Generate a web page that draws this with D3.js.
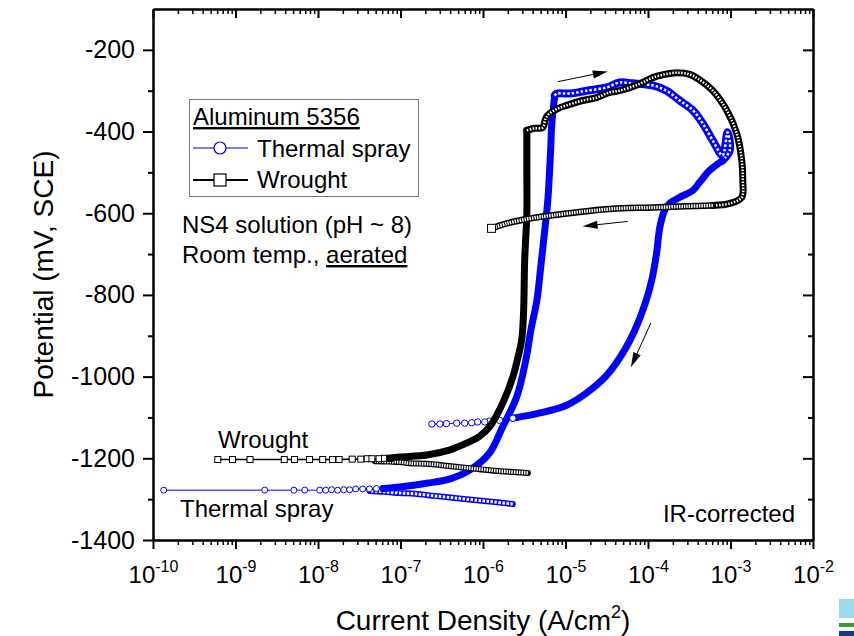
<!DOCTYPE html>
<meta charset="utf-8">
<script src="https://d3js.org/d3.v7.min.js"></script>
<style>
body{margin:0;background:#fff}
text{font-family:"Liberation Sans",Arial,sans-serif;fill:#000}
</style>
<div id="chart"></div>
<script>

// tick values
var yTicks = [-1400,-1200,-1000,-800,-600,-400,-200]
var yMinor = [-1300,-1100,-900,-700,-500,-300]
var xExponents = [-10,-9,-8,-7,-6,-5,-4,-3,-2]

// Thermal spray, [current A/cm2, potential mV SCE], in scan order
var sprayCathodic = [[2.3e-6,-1312],[1.39e-6,-1307],[7.9e-7,-1302],[4.5e-7,-1297],[2.6e-7,-1292],[1.49e-7,-1287],[9.8e-8,-1285],[6.4e-8,-1282],[4.2e-8,-1280]]
var sprayOcp = [[1.35e-10,-1278],[2.26e-9,-1278],[5.1e-9,-1278],[6.9e-9,-1278],[1.05e-8,-1278],[1.24e-8,-1278],[1.46e-8,-1277],[1.73e-8,-1278],[2.05e-8,-1277],[2.42e-8,-1277],[2.86e-8,-1275],[3.48e-8,-1275],[4.2e-8,-1275],[5.1e-8,-1274],[6.1e-8,-1274]]
var sprayAnodic = [[6.1e-8,-1274],[9.8e-8,-1270],[2.08e-7,-1261],[3.9e-7,-1251],[6.9e-7,-1229],[1.2e-6,-1187],[1.73e-6,-1123],[2.56e-6,-1050],[3.3e-6,-960],[3.8e-6,-887],[4.5e-6,-813],[5.0e-6,-733],[5.6e-6,-642],[6.1e-6,-569],[6.6e-6,-446],[6.8e-6,-385],[7.4e-6,-312]]
var sprayPassive = [[7.4e-6,-312],[7.8e-6,-307],[1.12e-5,-307],[1.8e-5,-300],[3.15e-5,-292],[4.5e-5,-280],[6.5e-5,-282],[1.14e-4,-287],[1.68e-4,-300],[2.42e-4,-324],[3.5e-4,-348],[4.6e-4,-380],[6.1e-4,-422],[8.0e-4,-458],[9.2e-4,-402],[9.8e-4,-446],[8.0e-4,-471]]
var sprayReverse = [[8.0e-4,-471],[5.6e-4,-495],[4.2e-4,-525],[3.5e-4,-544],[2.42e-4,-561],[1.83e-4,-576],[1.59e-4,-593],[1.39e-4,-635],[1.27e-4,-698],[1.11e-4,-764],[9.1e-5,-825],[6.9e-5,-887],[5.2e-5,-935],[3.15e-5,-997],[1.8e-5,-1040],[1.03e-5,-1070],[4.9e-6,-1089],[2.3e-6,-1102]]
var sprayReverseEnd = [[2.3e-6,-1102],[1.59e-6,-1107],[1.2e-6,-1109],[1.05e-6,-1111],[8.6e-7,-1111],[7.3e-7,-1113],[6.0e-7,-1114],[4.8e-7,-1114],[3.6e-7,-1115],[3.0e-7,-1116],[2.4e-7,-1116]]

// Wrought
var wroughtCathodic = [[3.5e-6,-1236],[2.1e-6,-1233],[1.2e-6,-1229],[6.9e-7,-1224],[3.9e-7,-1219],[2.26e-7,-1214],[1.29e-7,-1212],[9.8e-8,-1209],[7.4e-8,-1208],[4.9e-8,-1207]]
var wroughtOcp = [[6.1e-10,-1203],[9.2e-10,-1203],[1.5e-9,-1203],[3.9e-9,-1203],[5.2e-9,-1203],[7.9e-9,-1203],[1.14e-8,-1203],[1.5e-8,-1203],[1.8e-8,-1203],[2.6e-8,-1202],[3.3e-8,-1202],[3.95e-8,-1201],[4.5e-8,-1201],[5.5e-8,-1201],[6.4e-8,-1200],[7.4e-8,-1200]]
var wroughtAnodic = [[7.4e-8,-1200],[9.8e-8,-1197],[2.08e-7,-1192],[3.9e-7,-1180],[6.3e-7,-1163],[9.1e-7,-1146],[1.2e-6,-1123],[1.73e-6,-1065],[2.3e-6,-1001],[2.6e-6,-960],[2.94e-6,-911],[3.1e-6,-845],[3.2e-6,-715],[3.4e-6,-600],[3.4e-6,-495],[3.4e-6,-397]]
var wroughtPassive = [[3.4e-6,-397],[4.2e-6,-392],[5.3e-6,-390],[5.75e-6,-368],[6.4e-6,-356],[8.05e-6,-344],[1.03e-5,-336],[1.61e-5,-324],[2.38e-5,-317],[3.43e-5,-304],[4.5e-5,-300],[6.5e-5,-290],[8.6e-5,-280],[1.14e-4,-268],[1.59e-4,-260],[2.23e-4,-256],[3.2e-4,-260],[4.2e-4,-273],[6.1e-4,-300],[9.0e-4,-348],[1.19e-3,-405],[1.37e-3,-471],[1.41e-3,-520],[1.37e-3,-561],[9.8e-4,-576],[6.1e-4,-581]]
var wroughtReverse = [[6.1e-4,-581],[2.94e-4,-583],[1.14e-4,-586],[4.5e-5,-588],[1.8e-5,-595],[7.0e-6,-605],[3.7e-6,-613],[1.94e-6,-625],[1.27e-6,-637]]

// scan direction arrows: [from, to]
var arrows = [[[8.05e-6,-278],[3.25e-5,-253]],[[5.7e-5,-620],[1.61e-5,-632]],[[1.08e-4,-869],[6.2e-5,-977]]]

var blue = "#0000ff"
var width = 854, height = 636
var pLeft = 153, pRight = 813, pTop = 9, pBottom = 540

var svg = d3.select("#chart").append("svg").attr("width",width).attr("height",height)

var x = d3.scaleLog().domain([1e-10,1e-2]).range([pLeft,pRight])
var y = d3.scaleLinear().domain([-1400,-100]).range([pBottom,pTop])

var line = d3.line().x(d => x(d[0])).y(d => y(d[1])).curve(d3.curveCatmullRom.alpha(0.5))
var straight = d3.line().x(d => x(d[0])).y(d => y(d[1]))

// thick band of overlapping markers
function band(data, color, outer, inner, dash){
	svg.append("path").datum(data).attr("d",line)
		.attr("fill","none").attr("stroke",color).attr("stroke-width",outer)
		.attr("stroke-linejoin","round").attr("stroke-linecap","round")
	if(inner){
		svg.append("path").datum(data).attr("d",line)
			.attr("fill","none").attr("stroke","#fff").attr("stroke-width",inner)
			.attr("stroke-dasharray",dash)
	}
}

function circles(data, r){
	svg.append("path").datum(data).attr("d",straight).attr("fill","none").attr("stroke",blue).attr("stroke-width",1)
	svg.append("g").selectAll("circle").data(data).join("circle")
		.attr("cx",d => x(d[0])).attr("cy",d => y(d[1])).attr("r",r)
		.attr("fill","#fff").attr("stroke",blue).attr("stroke-width",1)
}

function squares(data, s){
	svg.append("path").datum(data).attr("d",straight).attr("fill","none").attr("stroke","#000").attr("stroke-width",1.6)
	svg.append("g").selectAll("rect").data(data).join("rect")
		.attr("x",d => x(d[0])-s/2).attr("y",d => y(d[1])-s/2).attr("width",s).attr("height",s)
		.attr("fill","#fff").attr("stroke","#000").attr("stroke-width",1)
}

// Thermal spray
band(sprayCathodic, blue, 6, 3, "2.5 1.5")
circles(sprayOcp, 3)
band(sprayAnodic, blue, 7)
band(sprayPassive, blue, 8, 2.5, "2.5 2")
band(sprayReverse, blue, 7)
circles(sprayReverseEnd, 3.2)

// Wrought
band(wroughtCathodic, "#000", 6, 3.5, "1.5 1")
squares(wroughtOcp, 6)
band(wroughtAnodic, "#000", 7)
band(wroughtPassive, "#000", 7, 2.5, "1.5 1.5")
band(wroughtReverse, "#000", 6.5, 3.5, "1.5 1")
var endPt = wroughtReverse[wroughtReverse.length-1]
svg.append("rect").attr("x",x(endPt[0])-4).attr("y",y(endPt[1])-4).attr("width",8).attr("height",8)
	.attr("fill","#fff").attr("stroke","#000").attr("stroke-width",1)

// arrows
arrows.forEach(function(a){
	var x0 = x(a[0][0]), y0 = y(a[0][1]), x1 = x(a[1][0]), y1 = y(a[1][1])
	var ang = Math.atan2(y1-y0, x1-x0)
	var L = 15, W = 4
	svg.append("line").attr("x1",x0).attr("y1",y0).attr("x2",x1-Math.cos(ang)*L*0.6).attr("y2",y1-Math.sin(ang)*L*0.6)
		.attr("stroke","#000").attr("stroke-width",1)
	var bx = x1-Math.cos(ang)*L, by = y1-Math.sin(ang)*L
	var px = -Math.sin(ang)*W, py = Math.cos(ang)*W
	svg.append("path").attr("d","M"+x1+","+y1+"L"+(bx+px)+","+(by+py)+"L"+(bx-px)+","+(by-py)+"Z").attr("fill","#000")
})

// axes
function styleAxis(g, w){
	g.selectAll("path").attr("stroke","#000").attr("stroke-width",2)
	g.selectAll("line").attr("stroke","#000").attr("stroke-width",w)
}
var xMinor = []
for(var e=-10;e<-2;e++){ for(var k=2;k<10;k++){ xMinor.push(k*Math.pow(10,e)) } }
var xMajor = xExponents.map(e => Math.pow(10,e))

var gb = svg.append("g").attr("transform","translate(0,"+pBottom+")")
	.call(d3.axisBottom(x).tickValues(xMajor).tickSize(9).tickSizeOuter(0).tickFormat(""))
styleAxis(gb, 2)
var gbm = svg.append("g").attr("transform","translate(0,"+pBottom+")")
	.call(d3.axisBottom(x).tickValues(xMinor).tickSize(5).tickSizeOuter(0).tickFormat(""))
styleAxis(gbm, 1.5)
gb.selectAll(".tick text").remove()
gb.selectAll(".tick").append("text").attr("y",43).attr("text-anchor","middle")
	.each(function(d){
		var t = d3.select(this)
		t.append("tspan").attr("font-size",24).text("10")
		t.append("tspan").attr("font-size",16).attr("dy",-11).text(String(Math.round(Math.log10(d))))
	})

var gt = svg.append("g").attr("transform","translate(0,"+pTop+")")
	.call(d3.axisTop(x).tickValues(xMajor).tickSize(-9).tickSizeOuter(0).tickFormat(""))
styleAxis(gt, 2)
var gtm = svg.append("g").attr("transform","translate(0,"+pTop+")")
	.call(d3.axisTop(x).tickValues(xMinor).tickSize(-5).tickSizeOuter(0).tickFormat(""))
styleAxis(gtm, 1.5)

var gl = svg.append("g").attr("transform","translate("+pLeft+",0)")
	.call(d3.axisLeft(y).tickValues(yTicks).tickSize(10).tickPadding(8).tickSizeOuter(0).tickFormat(d => String(d)))
styleAxis(gl, 2)
gl.selectAll(".tick text").attr("font-size",25).attr("font-family","Liberation Sans, Arial, sans-serif").attr("fill","#000")
var glm = svg.append("g").attr("transform","translate("+pLeft+",0)")
	.call(d3.axisLeft(y).tickValues(yMinor).tickSize(5).tickSizeOuter(0).tickFormat(""))
styleAxis(glm, 2)

var gr = svg.append("g").attr("transform","translate("+pRight+",0)")
	.call(d3.axisRight(y).tickValues(yTicks).tickSize(-10).tickSizeOuter(0).tickFormat(""))
styleAxis(gr, 2)
var grm = svg.append("g").attr("transform","translate("+pRight+",0)")
	.call(d3.axisRight(y).tickValues(yMinor).tickSize(-5).tickSizeOuter(0).tickFormat(""))
styleAxis(grm, 2)

// axis titles
svg.append("text").attr("transform","translate(53,"+((pTop+pBottom)/2)+") rotate(-90)")
	.attr("text-anchor","middle").attr("font-size",28).text("Potential (mV, SCE)")
var xt = svg.append("text").attr("x",(pLeft+pRight)/2).attr("y",630).attr("text-anchor","middle").attr("font-size",28)
xt.append("tspan").text("Current Density (A/cm")
xt.append("tspan").attr("font-size",18).attr("dy",-12).text("2")
xt.append("tspan").attr("dy",12).text(")")

// legend
svg.append("rect").attr("x",189.5).attr("y",99.5).attr("width",229).attr("height",97)
	.attr("fill","#fff").attr("stroke","#777").attr("stroke-width",1)
svg.append("text").attr("x",193).attr("y",125).attr("font-size",24).attr("text-decoration","underline").text("Aluminum 5356")
svg.append("line").attr("x1",193).attr("x2",248).attr("y1",148).attr("y2",148).attr("stroke",blue).attr("stroke-width",1)
svg.append("circle").attr("cx",220).attr("cy",148).attr("r",6).attr("fill","#fff").attr("stroke",blue).attr("stroke-width",1.2)
svg.append("text").attr("x",257).attr("y",157).attr("font-size",24).text("Thermal spray")
svg.append("line").attr("x1",193).attr("x2",248).attr("y1",180).attr("y2",180).attr("stroke","#000").attr("stroke-width",2)
svg.append("rect").attr("x",214).attr("y",174).attr("width",12).attr("height",12).attr("fill","#fff").attr("stroke","#000").attr("stroke-width",1.2)
svg.append("text").attr("x",257).attr("y",188).attr("font-size",24).text("Wrought")

// notes
svg.append("text").attr("x",182).attr("y",233).attr("font-size",24).text("NS4 solution (pH ~ 8)")
var rt = svg.append("text").attr("x",182).attr("y",263).attr("font-size",24)
rt.append("tspan").text("Room temp., ")
rt.append("tspan").attr("text-decoration","underline").text("aerated")
svg.append("text").attr("x",218).attr("y",448).attr("font-size",24).text("Wrought")
svg.append("text").attr("x",180).attr("y",517).attr("font-size",24).text("Thermal spray")
svg.append("text").attr("x",795).attr("y",522).attr("font-size",24).attr("text-anchor","end").text("IR-corrected")

// slide corner marks
svg.append("rect").attr("x",839).attr("y",599).attr("width",15).attr("height",19).attr("fill","#9dd9ef")
svg.append("rect").attr("x",839).attr("y",623).attr("width",15).attr("height",4).attr("fill","#3d9b3d")
svg.append("rect").attr("x",839).attr("y",631).attr("width",15).attr("height",5).attr("fill","#0b3c94")

</script>
